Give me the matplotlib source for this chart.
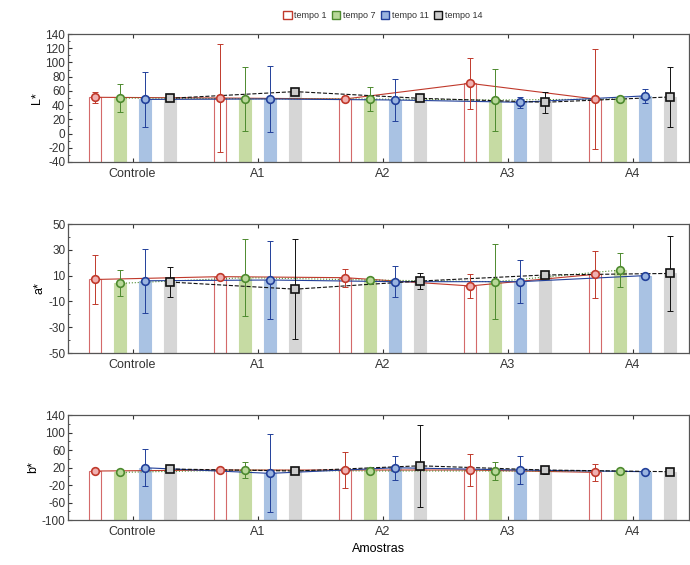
import numpy as np
import matplotlib
matplotlib.use("Agg")
import matplotlib.pyplot as plt
from matplotlib.patches import Patch

plt.rcParams['font.family'] = ['Liberation Sans', 'DejaVu Sans']
plt.rcParams['axes.unicode_minus'] = False
plt.rcParams['text.color'] = '#333333'
plt.rcParams['xtick.color'] = '#333333'
plt.rcParams['ytick.color'] = '#333333'

# Data
amostras = ['Controle', 'A1', 'A2', 'A3', 'A4']
tempos = ['tempo 1', 'tempo 7', 'tempo 11', 'tempo 14']

L_mean = [[51, 50, 48.6, 70.6, 48.6],
          [50, 49, 48.6, 47.2, 48.6],
          [48, 48.6, 47.2, 44, 53],
          [49.6, 59, 49.6, 44, 51.5]]
L_err = [[8, 76, 4, 36, 70],
         [19, 45, 17, 44, 3],
         [39, 47, 30, 8, 10],
         [4, 3, 4, 15, 42]]

a_mean = [[7, 9.2, 8.4, 2, 11],
          [4, 8.4, 6.6, 5.3, 14.3],
          [6, 6.6, 5.3, 5.3, 10],
          [5, -0.5, 5.8, 10.5, 11.7]]
a_err = [[19, 1.5, 7, 9, 18],
         [10, 30, 2, 29, 13],
         [25, 30, 12, 16.6, 1],
         [11.5, 39, 6, 2, 29]]

b_mean = [[12, 14.3, 14.3, 14.3, 9],
          [9, 14.3, 12, 12, 12],
          [19.5, 6.7, 19.5, 14.3, 10.5],
          [16.6, 12, 24, 14.3, 10.5]]
b_err = [[5, 5, 42, 36, 20],
         [4, 18, 4, 20, 4],
         [42, 89, 28, 33, 5],
         [4, 4, 94, 8, 4]]

panels = [
    ('L*', L_mean, L_err, (-40, 140), np.arange(-40, 141, 20)),
    ('a*', a_mean, a_err, (-50, 50), np.arange(-50, 51, 20)),
    ('b*', b_mean, b_err, (-100, 140), np.arange(-100, 141, 40)),
]

bar_face = ['white', '#c6dba3', '#a9c2e3', '#d6d6d6']
bar_edge = ['#d46a6a', '#c6dba3', '#a9c2e3', '#d6d6d6']
mk_col = ['#c0392b', '#4d8a2e', '#22409a', '#111111']
mk_face = ['#f0b0b0', '#b8d898', '#9ab4e0', '#cccccc']
mk_shape = ['o', 'o', 'o', 's']
line_style = ['-', ':', '-', '--']
offsets = [-0.3, -0.1, 0.1, 0.3]

fig = plt.figure(figsize=(6.9, 5.65), dpi=100)
rects = [[0.0986, 0.7133, 0.90, 0.2265],
         [0.0986, 0.3752, 0.90, 0.2283],
         [0.0986, 0.0796, 0.90, 0.1858]]

x = np.arange(len(amostras))
for k, (label, means, errs, ylim, yticks) in enumerate(panels):
    ax = fig.add_axes(rects[k])
    for t in range(4):
        xs = x + offsets[t]
        m = np.array(means[t])
        e = np.array(errs[t])
        ax.bar(xs, m - ylim[0], bottom=ylim[0], width=0.09,
               color=bar_face[t], edgecolor=bar_edge[t], linewidth=0.8, zorder=1)
        ax.plot(xs, m, linestyle=line_style[t], color=mk_col[t], linewidth=0.8, zorder=2)
        ax.errorbar(xs, m, yerr=e, fmt='none', ecolor=mk_col[t], elinewidth=0.7,
                    capsize=2, capthick=0.7, zorder=3)
        ax.plot(xs, m, linestyle='none', marker=mk_shape[t], markersize=5.5,
                markerfacecolor=mk_face[t], markeredgecolor=mk_col[t],
                markeredgewidth=1.2, zorder=4)
    ax.set_xlim(-0.516, 4.452)
    ax.set_ylim(ylim)
    ax.set_yticks(yticks)
    ax.set_xticks(x)
    ax.set_xticklabels(amostras, fontsize=9)
    ax.tick_params(axis='y', labelsize=8.5, direction='in', length=3, pad=2)
    ax.tick_params(axis='x', direction='in', length=3, top=True, pad=4)
    ax.yaxis.set_minor_locator(matplotlib.ticker.AutoMinorLocator(2))
    ax.tick_params(axis='y', which='minor', direction='in', length=1.5)
    ax.set_ylabel(label, fontsize=9, labelpad=2)
    for s in ax.spines.values():
        s.set_color('#555555')
        s.set_linewidth(0.9)
    if k == 2:
        ax.set_xlabel('Amostras', fontsize=9, labelpad=4)

handles = [Patch(facecolor=mk_face[t] if t else 'white', edgecolor=mk_col[t], label=tempos[t])
           for t in range(4)]
fig.legend(handles=handles, loc='upper center', bbox_to_anchor=(0.555, 0.995), ncol=4,
           frameon=False, fontsize=6.5, handlelength=0.9, handleheight=0.9,
           handletextpad=0.3, columnspacing=0.6)

fig.savefig('out.png', dpi=100)
